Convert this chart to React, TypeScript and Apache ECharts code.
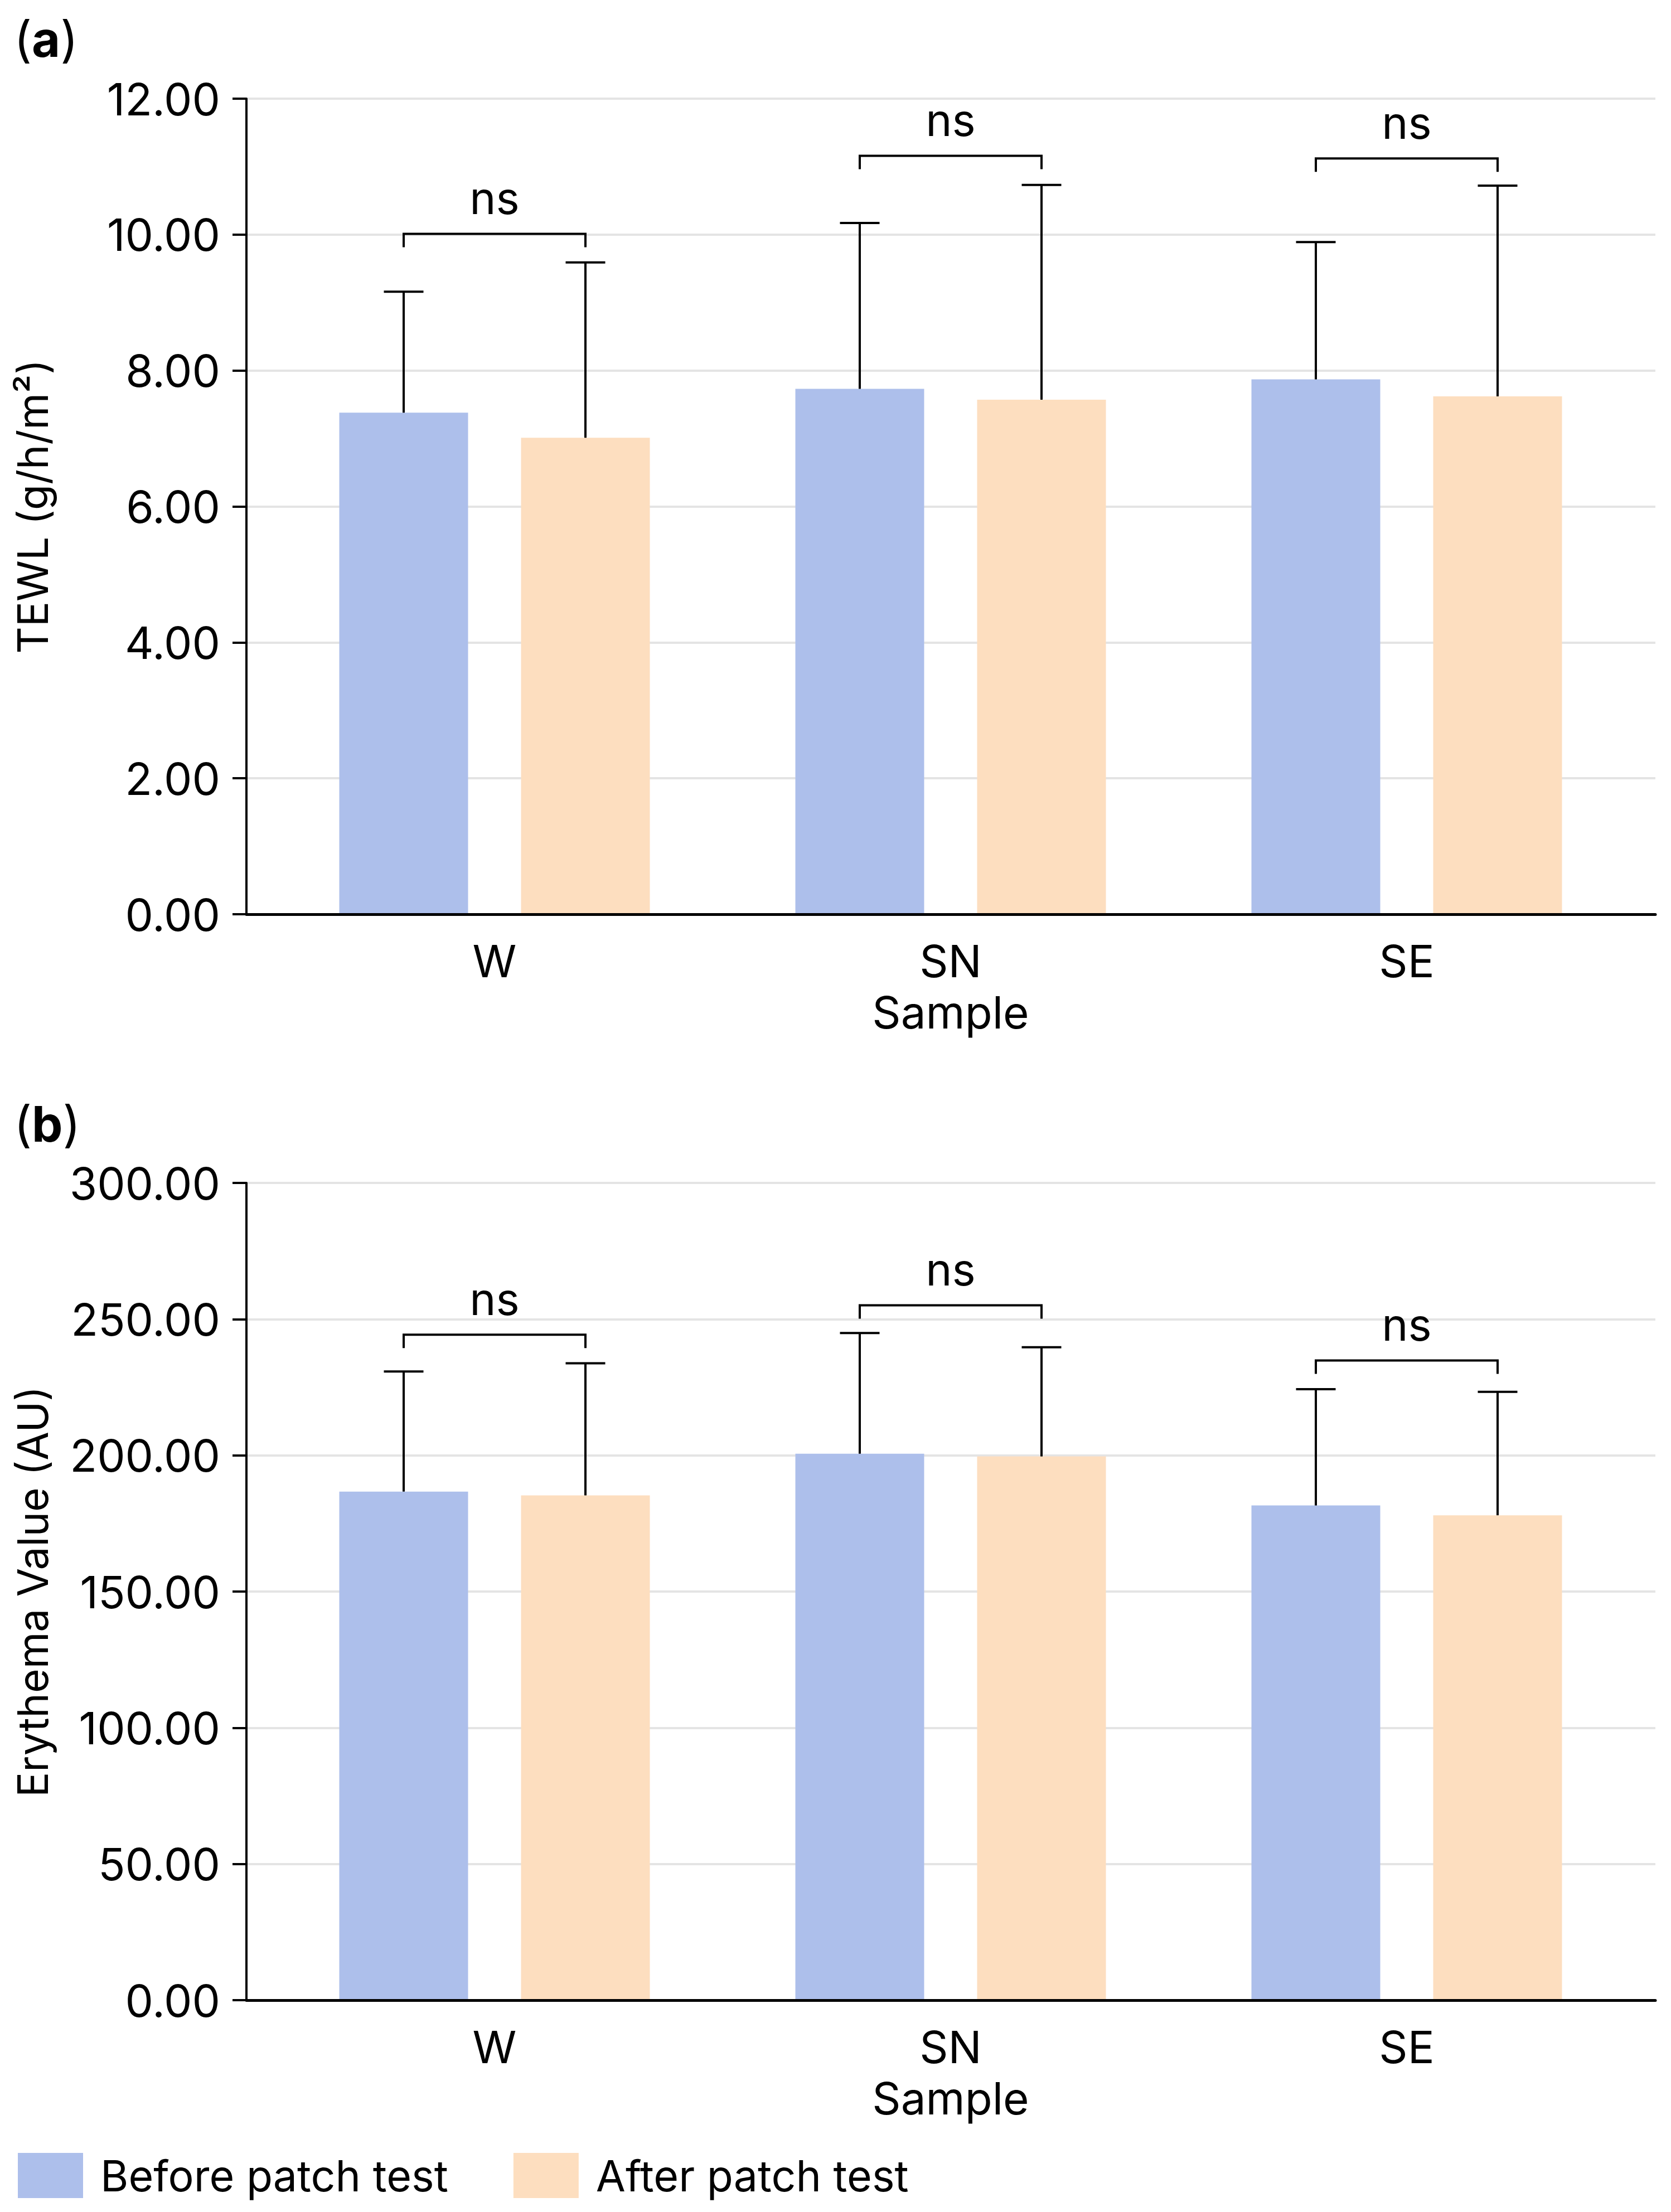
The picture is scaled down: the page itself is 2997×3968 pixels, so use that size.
import React, { useEffect, useRef } from "react";
import * as echarts from "echarts";

// ---------- data ----------
const categories = ["W", "SN", "SE"];
const seriesNames = ["Before patch test", "After patch test"];

const tewlBefore = [7.38, 7.73, 7.87];
const tewlAfter = [7.01, 7.57, 7.62];
const tewlBeforeSD = [1.78, 2.44, 2.02];
const tewlAfterSD = [2.58, 3.16, 3.1];
const tewlBracket = [10.01, 11.16, 11.12];
const tewlTicks = { min: 0, max: 12, interval: 2 };

const eryBefore = [186.7, 200.6, 181.6];
const eryAfter = [185.3, 199.6, 178.0];
const eryBeforeSD = [44.1, 44.3, 42.7];
const eryAfterSD = [48.5, 40.1, 45.3];
const eryBracket = [244.3, 255.1, 234.8];
const eryTicks = { min: 0, max: 300, interval: 50 };

const sigLabels = ["ns", "ns", "ns"];

// ---------- styles ----------
const FONT = "Inter";
const FS = 80;
const BLUE = "#adbfeb";
const PEACH = "#fddebf";
const BAR_W = 231;
const BAR_GAP_PX = 95;
const OFFSET = (BAR_W + BAR_GAP_PX) / 2;
const CAP = 71;
const LW = 4;
const LEG = 24;

function errData(before: number[], bSD: number[], after: number[], aSD: number[]) {
  const out: number[][] = [];
  before.forEach((v, i) => out.push([i, 0, v, v + bSD[i]]));
  after.forEach((v, i) => out.push([i, 1, v, v + aSD[i]]));
  return out;
}

const errRender = (_params: any, api: any) => {
  const cat = api.value(0);
  const grp = api.value(1);
  const base = api.coord([cat, api.value(2)]);
  const top = api.coord([cat, api.value(3)]);
  const x = base[0] + (grp === 0 ? -OFFSET : OFFSET);
  const st = { stroke: "#000", lineWidth: LW };
  return {
    type: "group",
    children: [
      { type: "line", shape: { x1: x, y1: base[1], x2: x, y2: top[1] }, style: st },
      { type: "line", shape: { x1: x - CAP / 2, y1: top[1], x2: x + CAP / 2, y2: top[1] }, style: st },
    ],
  };
};

const bracketRender = (params: any, api: any) => {
  const cat = api.value(0);
  const p = api.coord([cat, api.value(1)]);
  const xl = p[0] - OFFSET;
  const xr = p[0] + OFFSET;
  const y = p[1];
  return {
    type: "group",
    children: [
      {
        type: "polyline",
        shape: { points: [[xl, y + LEG], [xl, y], [xr, y], [xr, y + LEG]] },
        style: { stroke: "#000", fill: null, lineWidth: LW },
      },
      {
        type: "text",
        x: p[0],
        y: y - 65,
        style: {
          text: sigLabels[params.dataIndex],
          fontSize: FS,
          fontFamily: FONT,
          fill: "#000",
          align: "center",
          verticalAlign: "middle",
        },
      },
    ],
  };
};

function panelAxes(
  top: number,
  height: number,
  ticks: { min: number; max: number; interval: number },
  yName: string,
  gridIdx: number
) {
  const grids = [
    { left: 442, top, width: 2527, height },
    { left: 478, top, width: 2454, height },
  ];
  const xAxes = [
    {
      gridIndex: gridIdx,
      type: "value",
      min: 0,
      max: 1,
      z: 5,
      axisLine: { show: true, onZero: false, lineStyle: { color: "#000", width: 5 } },
      axisTick: { show: false },
      axisLabel: { show: false },
      splitLine: { show: false },
    },
    {
      gridIndex: gridIdx + 1,
      type: "category",
      data: categories,
      axisLine: { show: false },
      axisTick: { show: false },
      axisLabel: { fontSize: FS, fontFamily: FONT, color: "#000", margin: 43 },
      name: "Sample",
      nameLocation: "middle",
      nameGap: 135,
      nameTextStyle: { fontSize: FS, fontFamily: FONT, color: "#000" },
    },
  ];
  const yAxes = [
    {
      gridIndex: gridIdx,
      type: "value",
      min: ticks.min,
      max: ticks.max,
      interval: ticks.interval,
      axisLine: { show: true, lineStyle: { color: "#000", width: LW } },
      axisTick: { show: true, length: 25, lineStyle: { color: "#000", width: LW } },
      axisLabel: {
        fontSize: FS,
        fontFamily: FONT,
        color: "#000",
        margin: 47,
        formatter: (v: number) => v.toFixed(2),
      },
      splitLine: { show: true, lineStyle: { color: "#e4e4e4", width: LW } },
      name: yName,
      nameLocation: "middle",
      nameRotate: 90,
      nameGap: 346,
      nameTextStyle: { fontSize: 75, fontFamily: FONT, color: "#000" },
    },
    {
      gridIndex: gridIdx + 1,
      type: "value",
      min: ticks.min,
      max: ticks.max,
      interval: ticks.interval,
      show: false,
    },
  ];
  return { grids, xAxes, yAxes };
}

function panelSeries(
  axisIdx: number,
  before: number[],
  after: number[],
  bSD: number[],
  aSD: number[],
  brackets: number[]
) {
  return [
    {
      name: seriesNames[0],
      type: "bar",
      xAxisIndex: axisIdx,
      yAxisIndex: axisIdx,
      data: before,
      barWidth: BAR_W,
      barGap: `${(BAR_GAP_PX / BAR_W) * 100}%`,
      itemStyle: { color: BLUE },
    },
    {
      name: seriesNames[1],
      type: "bar",
      xAxisIndex: axisIdx,
      yAxisIndex: axisIdx,
      data: after,
      barWidth: BAR_W,
      barGap: `${(BAR_GAP_PX / BAR_W) * 100}%`,
      itemStyle: { color: PEACH },
    },
    {
      type: "custom",
      xAxisIndex: axisIdx,
      yAxisIndex: axisIdx,
      renderItem: errRender,
      encode: { x: 0, y: [2, 3] },
      data: errData(before, bSD, after, aSD),
      z: 4,
    },
    {
      type: "custom",
      xAxisIndex: axisIdx,
      yAxisIndex: axisIdx,
      renderItem: bracketRender,
      encode: { x: 0, y: 1 },
      data: brackets.map((b, i) => [i, b]),
      z: 4,
    },
  ];
}

export default function App() {
  const ref = useRef<HTMLDivElement>(null);
  useEffect(() => {
    if (!ref.current) return;
    const chart = echarts.init(ref.current, null, { renderer: "svg" });
    const a = panelAxes(177, 1463, tewlTicks, "TEWL (g/h/m²)", 0);
    const b = panelAxes(2122, 1466, eryTicks, "Erythema Value (AU)", 2);
    const panelLabel = (letter: string, y: number) => ({
      type: "text",
      x: 25,
      y,
      style: {
        text: `{n|(}{b|${letter}}{n|)}`,
        verticalAlign: "middle",
        rich: {
          n: { fontSize: 88, fontFamily: FONT, fontWeight: "normal", fill: "#000" },
          b: { fontSize: 88, fontFamily: FONT, fontWeight: "bold", fill: "#000" },
        },
      },
    });
    chart.setOption({
      animation: false,
      backgroundColor: "#fff",
      textStyle: { fontFamily: FONT, color: "#000" },
      grid: [...a.grids, ...b.grids],
      xAxis: [...a.xAxes, ...b.xAxes],
      yAxis: [...a.yAxes, ...b.yAxes],
      legend: {
        data: seriesNames,
        left: 27,
        top: 3857,
        icon: "rect",
        itemWidth: 117,
        itemHeight: 81,
        itemGap: 117,
        textStyle: { fontSize: 77, fontFamily: FONT, color: "#000", padding: [0, 0, 0, 26] },
      },
      graphic: [panelLabel("a", 70), panelLabel("b", 2016)],
      series: [
        ...panelSeries(1, tewlBefore, tewlAfter, tewlBeforeSD, tewlAfterSD, tewlBracket),
        ...panelSeries(3, eryBefore, eryAfter, eryBeforeSD, eryAfterSD, eryBracket),
      ],
    });
    return () => chart.dispose();
  }, []);
  return (
    <div
      ref={ref}
      style={{ position: "absolute", left: 0, top: 0, width: 2997, height: 3968 }}
    />
  );
}
